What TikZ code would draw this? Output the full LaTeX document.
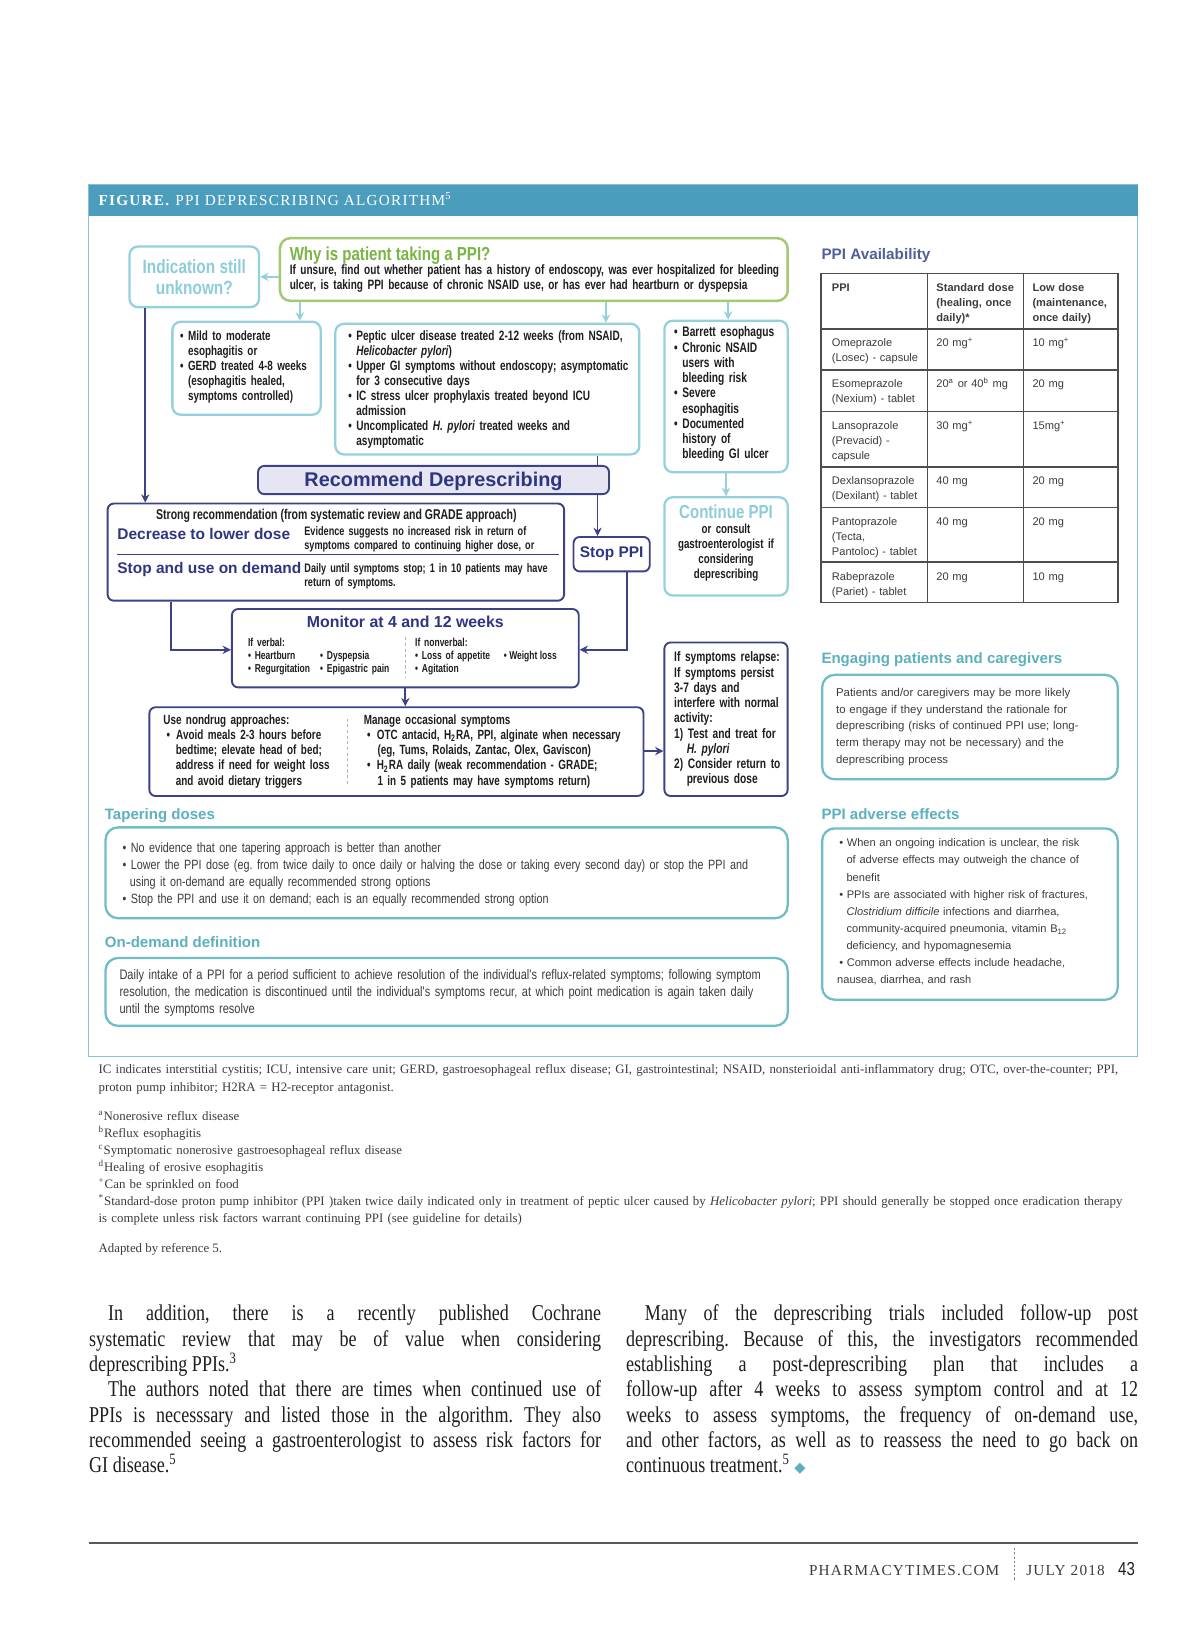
\documentclass[tikz,border=0pt]{standalone}
\usepackage{fontspec}
\setmainfont{Liberation Serif}
\newfontfamily\condf[FakeStretch=0.8]{Liberation Sans}
\newfontfamily\condk[FakeStretch=0.74]{Liberation Sans}
\newfontfamily\sansf{Liberation Sans}
\newfontfamily\bodyf[FakeStretch=0.8]{Liberation Serif}
\newfontfamily\spacedf[LetterSpace=8]{Liberation Serif}
\newfontfamily\symf{DejaVu Sans}
\usetikzlibrary{arrows.meta,fit}
\frenchspacing
\newcommand\CondF[2]{\fontsize{#1}{#2}\condf}
\newcommand\CondK[2]{\fontsize{#1}{#2}\condk\bfseries}
\newcommand\SansF[2]{\fontsize{#1}{#2}\sansf}
\newcommand\SerifF[2]{\fontsize{#1}{#2}\rmfamily}
\newcommand\IND{\hphantom{•~}}
\newcommand\BodyPar[1]{\parbox[t]{245pt}{\frenchspacing\tolerance=10000\relax\hbadness=10000\relax\parindent=9pt\relax #1}}
\definecolor{hdrc}{HTML}{4B9DBD}
\definecolor{framec}{HTML}{86C0D4}
\definecolor{ltc}{HTML}{94D1DD}
\definecolor{lttxt}{HTML}{8DCCDA}
\definecolor{grnb}{HTML}{A3C972}
\definecolor{grnt}{HTML}{7AB543}
\definecolor{navyc}{HTML}{3D4287}
\definecolor{navyt}{HTML}{2F3681}
\definecolor{lavc}{HTML}{E6E5F2}
\definecolor{tealh}{HTML}{5CB1BD}
\definecolor{tealb}{HTML}{70BDC8}
\definecolor{availc}{HTML}{515F98}
\definecolor{tblc}{HTML}{4D4D4D}
\definecolor{graytx}{HTML}{3C3C3C}
\definecolor{inkc}{HTML}{1E1E1E}
\tikzset{
  tx/.style={inner sep=0pt, anchor=base west, align=left},
  tealbox/.style={draw=ltc, line width=1.1pt, rounded corners=4pt, inner sep=0pt},
  navybox/.style={draw=navyc, line width=0.9pt, rounded corners=3pt, inner sep=0pt},
  greenbox/.style={draw=grnb, line width=1.2pt, rounded corners=5pt, inner sep=0pt},
  infobox/.style={draw=tealb, line width=1.1pt, rounded corners=6pt, inner sep=0pt},
  tarrow/.style={draw=ltc, line width=1pt, -{Stealth[length=4pt,width=4pt]}},
  narrow/.style={draw=navyc, line width=0.9pt, -{Stealth[length=4pt,width=4pt]}},
  nline/.style={draw=navyc, line width=0.9pt},
  sepdash/.style={draw=gray!60, line width=0.5pt, dash pattern=on 1.5pt off 1.2pt},
  cell/.style={tx, text width=45pt, font=\SansF{5.3}{7.15}, text=graytx},
  cellh/.style={cell, font=\SansF{5.3}{7.15}\bfseries},
  body/.style={inner sep=0pt, anchor=base west, font=\fontsize{10.8}{12.1}\bodyf, text=inkc},
}
\begin{document}
\begin{tikzpicture}[x=0.5pt,y=-0.5pt]
\fill[white] (0,0) rectangle (1149,1568);
\useasboundingbox (0,0) rectangle (1149,1568);

% frame and header
\node[draw=framec, line width=0.6pt, inner sep=0pt, fit={(85,177) (1089,1011)}] (frame) {};
\node[fill=hdrc, inner sep=0pt, fit={(85,177) (1089,207)}] (hdr) {};
\node[tx, text=white, font=\fontsize{7.3}{8}\spacedf] (hdrt) at (94,197) {\textbf{FIGURE.} PPI DEPRESCRIBING ALGORITHM\textsuperscript{5}};

% top boxes
\node[tealbox, fit={(124,236) (248,294)}] (ind) {};
\node[font=\CondF{9.2}{10}\bfseries, text=lttxt, align=center, inner sep=0pt] (indt) at (ind.center) {Indication still\\unknown?};

\node[greenbox, fit={(268,228) (754,288)}] (why) {};
\node[tx, text=grnt, font=\CondF{9}{10}\bfseries] (whyt) at (277,249.5) {Why is patient taking a PPI?};
\node[tx, text width=270pt, font=\CondK{6.5}{7.5}, text=inkc] (whyb) at (277,262.5) {If unsure, find out whether patient has a history of endoscopy, was ever hospitalized for bleeding\\ulcer, is taking PPI because of chronic NSAID use, or has ever had heartburn or dyspepsia};

\node[tealbox, fit={(165,308) (307,397)}] (mild) {};
\node[tx, text width=80pt, font=\CondK{6.4}{7.25}, text=inkc] (mildt) at (172,325.5) {• Mild to moderate\\\IND esophagitis or\\• GERD treated 4-8 weeks\\\IND (esophagitis healed,\\\IND symptoms controlled)};

\node[tealbox, fit={(321,310) (612,435)}] (pep) {};
\node[tx, text width=160pt, font=\CondK{6.5}{7.2}, text=inkc] (pept) at (333,325.5) {• Peptic ulcer disease treated 2-12 weeks (from NSAID,\\\IND\textit{Helicobacter pylori})\\• Upper GI symptoms without endoscopy; asymptomatic\\\IND for 3 consecutive days\\• IC stress ulcer prophylaxis treated beyond ICU\\\IND admission\\• Uncomplicated \textit{H. pylori} treated weeks and\\\IND asymptomatic};

\node[tealbox, fit={(636,307) (754,452)}] (bar) {};
\node[tx, text width=70pt, font=\CondK{6.6}{7.3}, text=inkc] (bart) at (645,322.5) {• Barrett esophagus\\• Chronic NSAID\\\IND users with\\\IND bleeding risk\\• Severe\\\IND esophagitis\\• Documented\\\IND history of\\\IND bleeding GI ulcer};

% recommend
\node[navybox, fill=lavc, fit={(247,446) (583,473)}] (rec) {};
\node[font=\SansF{9.5}{10}\bfseries, text=navyt, inner sep=0pt, anchor=base] (rect) at (415,466) {Recommend Deprescribing};

\node[navybox, fit={(103,482) (540,575)}] (dec) {};
\node[font=\CondK{6.8}{7}, text=inkc, inner sep=0pt, anchor=base] (strong) at (322,497.5) {Strong recommendation (from systematic review and GRADE approach)};
\node[tx, text=navyt, font=\SansF{7.4}{8}\bfseries] (dect) at (112,516) {Decrease to lower dose};
\node[tx, text width=130pt, font=\CondK{5.9}{6.5}, text=inkc] (decd) at (291,513) {Evidence suggests no increased risk in return of\\symptoms compared to continuing higher dose, or};
\draw[navyc, line width=0.6pt] (112,531) -- (535,531);
\node[tx, text=navyt, font=\SansF{7.4}{8}\bfseries] (sudt) at (112,549) {Stop and use on demand};
\node[tx, text width=130pt, font=\CondK{5.9}{6.5}, text=inkc] (sudd) at (291,548) {Daily until symptoms stop; 1 in 10 patients may have\\return of symptoms.};

\node[navybox, fit={(549,514) (622,547)}] (stop) {};
\node[font=\SansF{7.4}{8}\bfseries, text=navyt, inner sep=0pt] (stopt) at (stop.center) {Stop PPI};

\node[tealbox, fit={(636,476) (754,570)}] (cont) {};
\node[font=\CondF{9}{10}\bfseries, text=lttxt, inner sep=0pt, anchor=base] (contt) at (695,496.5) {Continue PPI};
\node[font=\CondK{6.3}{7.15}, text=inkc, inner sep=0pt, anchor=base, align=center, text width=60pt] (contb) at (695,511) {or consult\\gastroenterologist if\\considering\\deprescribing};

% monitor
\node[navybox, fit={(222,583) (554,658)}] (mon) {};
\node[font=\SansF{7.6}{8}\bfseries, text=navyt, inner sep=0pt, anchor=base] (mont) at (388,600.5) {Monitor at 4 and 12 weeks};
\node[tx, text width=60pt, font=\CondK{5.5}{6.25}, text=inkc] (monv) at (237,619) {If verbal:\\• Heartburn\\• Regurgitation};
\node[tx, text width=50pt, font=\CondK{5.5}{6.25}, text=inkc] (monv2) at (306,631.5) {• Dyspepsia\\• Epigastric pain};
\draw[sepdash] (388,610) -- (388,648);
\node[tx, text width=60pt, font=\CondK{5.5}{6.25}, text=inkc] (monn) at (397,619) {If nonverbal:\\• Loss of appetite\\• Agitation};
\node[tx, font=\CondK{5.5}{6.25}, text=inkc] (monn2) at (482,631.5) {• Weight loss};

% nondrug
\node[navybox, fit={(143,677) (616,762)}] (nd) {};
\node[tx, text width=100pt, font=\CondK{6.4}{7.25}, text=inkc] (ndl) at (156,693.5) {Use nondrug approaches:\\\hspace*{1.5pt}•\hspace{3pt}Avoid meals 2-3 hours before\\\hspace*{6pt}bedtime; elevate head of bed;\\\hspace*{6pt}address if need for weight loss\\\hspace*{6pt}and avoid dietary triggers};
\draw[sepdash] (333,688) -- (333,752);
\node[tx, text width=160pt, font=\CondK{6.4}{7.25}, text=inkc] (ndr) at (348,693.5) {Manage occasional symptoms\\\hspace*{1.5pt}•\hspace{3pt}OTC antacid, H\textsubscript{2}RA, PPI, alginate when necessary\\\hspace*{6.5pt}(eg, Tums, Rolaids, Zantac, Olex, Gaviscon)\\\hspace*{1.5pt}•\hspace{3pt}H\textsubscript{2}RA daily (weak recommendation - GRADE;\\\hspace*{6.5pt}1 in 5 patients may have symptoms return)};

\node[navybox, fit={(636,615) (754,762)}] (rel) {};
\node[tx, text width=70pt, font=\CondK{6.6}{7.3}, text=inkc] (relt) at (645,633.5) {If symptoms relapse:\\If symptoms persist\\3-7 days and\\interfere with normal\\activity:\\1) Test and treat for\\\hspace*{6pt}\textit{H. pylori}\\2) Consider return to\\\hspace*{6pt}previous dose};

% connectors
\draw[tarrow] (why.west |- ind.east) -- (ind.east);
\draw[tarrow] (287,0 |- why.south) -- (287,0 |- mild.north);
\draw[tarrow] (580,0 |- why.south) -- (580,0 |- pep.north);
\draw[tarrow] (697,0 |- why.south) -- (697,0 |- bar.north);
\draw[tarrow] (bar.south) -- (cont.north);
\draw[narrow] (139,0 |- ind.south) -- (139,0 |- dec.north);
\draw[nline] (572,0 |- pep.south) -- (572,0 |- rec.north);
\draw[narrow] (572,0 |- rec.south) -- (572,0 |- stop.north);
\draw[narrow] (164,0 |- dec.south) |- (mon.west |- 0,622);
\draw[narrow] (600,0 |- stop.south) |- (mon.east |- 0,622);
\draw[narrow] (mon.south) -- (mon.south |- nd.north);
\draw[narrow] (nd.east |- 0,719) -- (rel.west |- 0,719);

% PPI availability table
\node[tx, text=availc, font=\SansF{7.3}{8}\bfseries] (availh) at (786,248) {PPI Availability};
\draw[tblc, line width=0.7pt] (786,262) rectangle (1070,577);
\foreach \xx in {888,980} \draw[tblc, line width=0.7pt] (\xx,262) -- (\xx,577);
\foreach \yy in {315,354,394,447,486,538} \draw[tblc, line width=0.7pt] (786,\yy) -- (1070,\yy);
\node[cellh] (h1) at (796,279) {PPI};
\node[cellh] (h2) at (896,279) {Standard dose\\(healing, once\\daily)*};
\node[cellh] (h3) at (988,279) {Low dose\\(maintenance,\\once daily)};
\node[cell] (r1a) at (796,332) {Omeprazole\\(Losec) - capsule};
\node[cell] (r1b) at (896,332) {20 mg\textsuperscript{+}};
\node[cell] (r1c) at (988,332) {10 mg\textsuperscript{+}};
\node[cell] (r2a) at (796,371) {Esomeprazole\\(Nexium) - tablet};
\node[cell] (r2b) at (896,371) {20\textsuperscript{a} or 40\textsuperscript{b} mg};
\node[cell] (r2c) at (988,371) {20 mg};
\node[cell] (r3a) at (796,411) {Lansoprazole\\(Prevacid) -\\capsule};
\node[cell] (r3b) at (896,411) {30 mg\textsuperscript{+}};
\node[cell] (r3c) at (988,411) {15mg\textsuperscript{+}};
\node[cell] (r4a) at (796,464) {Dexlansoprazole\\(Dexilant) - tablet};
\node[cell] (r4b) at (896,464) {40 mg};
\node[cell] (r4c) at (988,464) {20 mg};
\node[cell] (r5a) at (796,503) {Pantoprazole\\(Tecta,\\Pantoloc) - tablet};
\node[cell] (r5b) at (896,503) {40 mg};
\node[cell] (r5c) at (988,503) {20 mg};
\node[cell] (r6a) at (796,556) {Rabeprazole\\(Pariet) - tablet};
\node[cell] (r6b) at (896,556) {20 mg};
\node[cell] (r6c) at (988,556) {10 mg};

% engaging
\node[tx, text=tealh, font=\SansF{7.2}{8}\bfseries] (engh) at (786,635) {Engaging patients and caregivers};
\node[infobox, fit={(787,646) (1070,746)}] (eng) {};
\node[tx, text width=140pt, font=\SansF{5.45}{8}, text=graytx] (engt) at (800,666.6) {Patients and/or caregivers may be more likely\\to engage if they understand the rationale for\\deprescribing (risks of continued PPI use; long-\\term therapy may not be necessary) and the\\deprescribing process};

\node[tx, text=tealh, font=\SansF{7.2}{8}\bfseries] (adh) at (786,784) {PPI adverse effects};
\node[infobox, fit={(787,793) (1070,957)}] (ad) {};
\node[tx, text width=140pt, font=\SansF{5.3}{8.2}, text=graytx] (adt) at (801,810.6) {\hspace*{1pt}• When an ongoing indication is unclear, the risk\\\hspace*{4.5pt}of adverse effects may outweigh the chance of\\\hspace*{4.5pt}benefit\\\hspace*{1pt}• PPIs are associated with higher risk of fractures,\\\hspace*{4.5pt}\textit{Clostridium difficile} infections and diarrhea,\\\hspace*{4.5pt}community-acquired pneumonia, vitamin B\textsubscript{12}\\\hspace*{4.5pt}deficiency, and hypomagnesemia\\\hspace*{1pt}• Common adverse effects include headache,\\nausea, diarrhea, and rash};

% tapering
\node[tx, text=tealh, font=\SansF{7.2}{8}\bfseries] (taph) at (100,784) {Tapering doses};
\node[infobox, fit={(101,792) (754,879)}] (tap) {};
\node[tx, text width=330pt, font=\CondF{6.45}{8.15}, text=graytx] (tapt) at (117,816) {• No evidence that one tapering approach is better than another\\• Lower the PPI dose (eg. from twice daily to once daily or halving the dose or taking every second day) or stop the PPI and\\\hspace*{3.5pt}using it on-demand are equally recommended strong options\\• Stop the PPI and use it on demand; each is an equally recommended strong option};

\node[tx, text=tealh, font=\SansF{7.2}{8}\bfseries] (odh) at (100,907) {On-demand definition};
\node[infobox, fit={(101,917) (754,982)}] (od) {};
\node[tx, text width=330pt, font=\CondF{6.6}{8}, text=graytx] (odt) at (114,938) {Daily intake of a PPI for a period sufficient to achieve resolution of the individual's reflux-related symptoms; following symptom\\resolution, the medication is discontinued until the individual's symptoms recur, at which point medication is again taken daily\\until the symptoms resolve};

% notes under figure
\node[tx, text width=540pt, font=\SerifF{6.15}{8.5}, text=graytx] (abbr) at (94,1028) {IC indicates interstitial cystitis; ICU, intensive care unit; GERD, gastroesophageal reflux disease; GI, gastrointestinal; NSAID, nonsterioidal anti-inflammatory drug; OTC, over-the-counter; PPI,\\proton pump inhibitor; H2RA = H2-receptor antagonist.};
\node[tx, text width=540pt, font=\SerifF{6.15}{8.1}, text=graytx] (fn) at (94,1073) {\textsuperscript{a}Nonerosive reflux disease\\\textsuperscript{b}Reflux esophagitis\\\textsuperscript{c}Symptomatic nonerosive gastroesophageal reflux disease\\\textsuperscript{d}Healing of erosive esophagitis\\\textsuperscript{+}Can be sprinkled on food\\\textsuperscript{*}Standard-dose proton pump inhibitor (PPI )taken twice daily indicated only in treatment of peptic ulcer caused by \textit{Helicobacter pylori}; PPI should generally be stopped once eradication therapy\\is complete unless risk factors warrant continuing PPI (see guideline for details)};
\node[tx, font=\SerifF{6.15}{8}, text=graytx] (adapt) at (94,1199) {Adapted by reference 5.};

% body text
\node[body] (bodyl) at (85,1264.5) {\BodyPar{In addition, there is a recently published Cochrane\linebreak systematic review that may be of value when considering\linebreak deprescribing PPIs.\textsuperscript{3}\par The authors noted that there are times when continued use of\linebreak PPIs is necesssary and listed those in the algorithm. They also\linebreak recommended seeing a gastroenterologist to assess risk factors for\linebreak GI disease.\textsuperscript{5}}};
\node[body] (bodyr) at (599,1264.5) {\BodyPar{Many of the deprescribing trials included follow-up post\linebreak deprescribing. Because of this, the investigators recommended\linebreak establishing a post-deprescribing plan that includes a\linebreak follow-up after 4 weeks to assess symptom control and at 12\linebreak weeks to assess symptoms, the frequency of on-demand use,\linebreak and other factors, as well as to reassess the need to go back on\linebreak continuous treatment.\textsuperscript{5} {\fontsize{7}{7}\symf\color{tealh}◆}}};

% footer
\draw[gray!70!black, line width=0.8pt] (85,1477) -- (1089,1477);
\node[inner sep=0pt, anchor=base east, font=\fontsize{7.3}{8}\spacedf, text=graytx] (ft1) at (957,1508) {PHARMACYTIMES.COM};
\draw[gray, line width=0.4pt, dash pattern=on 1pt off 1pt] (971,1482) -- (971,1513);
\node[inner sep=0pt, anchor=base west, font=\fontsize{7.3}{8}\spacedf, text=graytx] (ft2) at (982,1508) {JULY 2018};
\node[inner sep=0pt, anchor=base west, font=\CondF{9}{10}, text=inkc] (ft3) at (1070,1508) {43};
\end{tikzpicture}
\end{document}
